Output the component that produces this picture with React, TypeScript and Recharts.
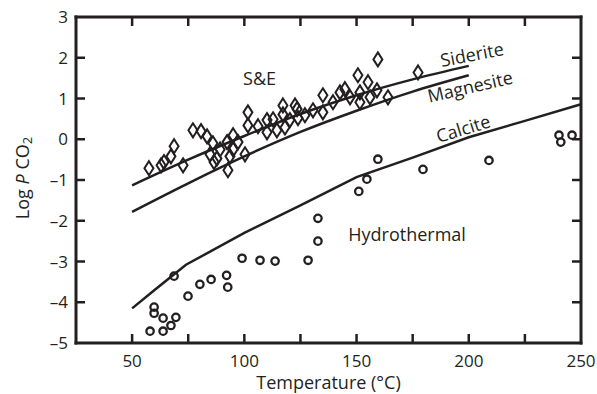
import React from 'react';
import { ComposedChart, XAxis, YAxis, Line, Scatter, ReferenceDot, ReferenceLine } from 'recharts';

const INK = '#231f20';
const FONT = '"Open Sans", "DejaVu Sans", sans-serif';
const W = 597;
const H = 394;
const MARGIN = { top: 17, right: 16, bottom: 51, left: 76 };

// Axis ranges and ticks
const xDomain = [25, 250];
const yDomain = [-5, 3];
const xTicks = [50, 75, 100, 125, 150, 175, 200, 225];
const xLabeled = [50, 100, 150, 200, 250];
const yTicks = [-4, -3, -2, -1, 0, 1, 2];
const yLabeled = [-5, -4, -3, -2, -1, 0, 1, 2, 3];

// Equilibrium curves (Temperature °C, log PCO2)
const sideriteT = [50, 75, 100, 125, 150, 175, 200];
const sideriteLogP = [-1.13, -0.5, 0.08, 0.62, 1.08, 1.47, 1.8];
const magnesiteT = [50, 75, 100, 125, 150, 175, 200];
const magnesiteLogP = [-1.78, -1.08, -0.42, 0.18, 0.7, 1.17, 1.57];
const calciteT = [50, 60, 74, 100, 125, 150, 175, 200, 225, 250];
const calciteLogP = [-4.15, -3.7, -3.08, -2.3, -1.62, -0.93, -0.45, 0.05, 0.45, 0.86];

// S&E samples (diamonds)
const seT = [57.5, 62.9, 64.2, 67.3, 68.7, 72.7, 77.1, 80.7, 83.4, 86.0, 84.7, 87.8, 89.2, 86.5, 92.7, 92.3, 95.0, 95.0, 93.6, 100.3,
  97.2, 101.6, 101.6, 106.1, 110.1, 110.1, 114.5, 112.8, 117.2, 118.1, 120.3, 123.5, 123.9, 127.0, 130.6, 135.0, 135.0, 139.5, 142.6, 144.8,
  147.1, 150.6, 151.5, 151.5, 155.1, 156.0, 159.5, 159.1, 164.0, 177.4, 122.6, 117.2];
const seLogP = [-0.71, -0.64, -0.56, -0.42, -0.17, -0.64, 0.22, 0.2, 0.07, -0.1, -0.37, -0.47, -0.25, -0.56, -0.76, -0.07, 0.1, -0.25, -0.42, -0.37,
  -0.07, 0.66, 0.34, 0.32, 0.17, 0.47, 0.22, 0.49, 0.83, 0.29, 0.47, 0.74, 0.52, 0.59, 0.71, 1.08, 0.66, 0.91, 1.15, 1.23,
  1.03, 1.57, 1.15, 0.91, 1.4, 1.03, 1.96, 1.2, 1.03, 1.64, 0.83, 0.61];

// Hydrothermal samples (circles)
const hydroT = [58, 63.8, 59.8, 59.8, 63.8, 67.3, 69.5, 68.7, 74.9, 80.2, 85.2, 92.1, 92.6, 99.0, 107, 113.7, 128.4, 132.8, 132.8,
  151, 154.6, 159.5, 179.6, 209, 240.2, 241, 246];
const hydroLogP = [-4.71, -4.71, -4.12, -4.27, -4.39, -4.57, -4.37, -3.36, -3.85, -3.56, -3.44, -3.34, -3.63, -2.92, -2.97, -2.99, -2.97, -2.5, -1.94,
  -1.28, -0.98, -0.49, -0.74, -0.52, 0.1, -0.07, 0.1];

// Annotations
const annText = ['S&E', 'Siderite', 'Magnesite', 'Calcite', 'Hydrothermal'];
const annT = [106.8, 201.4, 200.5, 197.4, 172.5];
const annLogP = [1.5, 2.09, 1.3, 0.27, -2.33];
const annAngle = [0, -11, -13, -17, 0];

const zip = (xs: number[], ys: number[]) => xs.map((x, i) => ({ x, y: ys[i] }));
const sideriteData = zip(sideriteT, sideriteLogP);
const magnesiteData = zip(magnesiteT, magnesiteLogP);
const calciteData = zip(calciteT, calciteLogP);
const seData = zip(seT, seLogP);
const hydroData = zip(hydroT, hydroLogP);
const annData = annText.map((t, i) => ({ t, x: annT[i], y: annLogP[i], a: annAngle[i] }));

const bottomTickData = xTicks.map((x) => ({ x, y: yDomain[0] }));
const topTickData = xTicks.map((x) => ({ x, y: yDomain[1] }));
const leftTickData = yTicks.map((y) => ({ x: xDomain[0], y }));
const rightTickData = yTicks.map((y) => ({ x: xDomain[1], y }));
const xLabelData = xLabeled.map((x) => ({ x, y: yDomain[0] }));
const yLabelData = yLabeled.map((y) => ({ x: xDomain[0], y }));

const fmt = (v: number) => (v < 0 ? '\u2013' + Math.abs(v) : String(v));
const TICK_LEN = 9;
const TICK_W = 2.5;

const BottomTick = (p: any) => (
  <line x1={p.cx} x2={p.cx} y1={p.cy} y2={p.cy - TICK_LEN} stroke={INK} strokeWidth={TICK_W} />
);
const TopTick = (p: any) => (
  <line x1={p.cx} x2={p.cx} y1={p.cy} y2={p.cy + TICK_LEN} stroke={INK} strokeWidth={TICK_W} />
);
const LeftTick = (p: any) => (
  <line x1={p.cx} x2={p.cx + TICK_LEN} y1={p.cy} y2={p.cy} stroke={INK} strokeWidth={TICK_W} />
);
const RightTick = (p: any) => (
  <line x1={p.cx} x2={p.cx - TICK_LEN} y1={p.cy} y2={p.cy} stroke={INK} strokeWidth={TICK_W} />
);
const XTickLabel = (p: any) => (
  <text x={p.cx} y={p.cy + 24} textAnchor="middle" fontFamily={FONT} fontSize={17} fill={INK}>
    {fmt(p.payload ? p.payload.x : p.x)}
  </text>
);
const YTickLabel = (p: any) => (
  <text x={p.cx - 8} y={p.cy + 6} textAnchor="end" fontFamily={FONT} fontSize={17} fill={INK}>
    {fmt(p.payload ? p.payload.y : p.y)}
  </text>
);

const Diamond = (p: any) => {
  const { cx, cy } = p;
  if (cx == null || cy == null) return <g />;
  return (
    <path
      d={`M${cx},${cy - 7} L${cx + 4.5},${cy} L${cx},${cy + 7} L${cx - 4.5},${cy} Z`}
      fill="none"
      stroke={INK}
      strokeWidth={2}
    />
  );
};

const Ring = (p: any) => {
  const { cx, cy } = p;
  if (cx == null || cy == null) return <g />;
  return <circle cx={cx} cy={cy} r={3.7} fill="none" stroke={INK} strokeWidth={2.3} />;
};

const YTitle = (p: any) => {
  const cx = p.cx - 54;
  const cy = p.cy - 2;
  return (
    <text
      x={cx}
      y={cy}
      transform={`rotate(-90, ${cx}, ${cy})`}
      textAnchor="middle"
      dominantBaseline="central"
      fontFamily={FONT}
      fontSize={18}
      fill={INK}
    >
      Log <tspan fontStyle="italic">P</tspan> CO<tspan fontSize={13} dy={5}>2</tspan>
    </text>
  );
};

const XTitle = (p: any) => (
  <text x={p.cx} y={p.cy + 46} textAnchor="middle" fontFamily={FONT} fontSize={18} fill={INK}>
    Temperature (°C)
  </text>
);

const sc = { isAnimationActive: false, dataKey: 'y' } as const;
const edge = { stroke: INK, strokeWidth: 3, strokeLinecap: 'square' } as const;

// Frame + inward ticks, drawn in an overlay chart with identical scales
function FrameChart() {
  return (
    <ComposedChart width={W} height={H} margin={MARGIN}>
      <XAxis type="number" dataKey="x" domain={xDomain} hide />
      <YAxis type="number" dataKey="y" domain={yDomain} hide />
      <ReferenceLine y={yDomain[0]} {...edge} />
      <ReferenceLine y={yDomain[1]} {...edge} />
      <ReferenceLine x={xDomain[0]} {...edge} />
      <ReferenceLine x={xDomain[1]} {...edge} />
      <Scatter data={bottomTickData} {...sc} shape={BottomTick} />
      <Scatter data={topTickData} {...sc} shape={TopTick} />
      <Scatter data={leftTickData} {...sc} shape={LeftTick} />
      <Scatter data={rightTickData} {...sc} shape={RightTick} />
    </ComposedChart>
  );
}

function DataChart() {
  return (
    <ComposedChart width={W} height={H} margin={MARGIN}>
      <XAxis type="number" dataKey="x" domain={xDomain} hide />
      <YAxis type="number" dataKey="y" domain={yDomain} hide />

      <Line data={sideriteData} dataKey="y" type="monotone" stroke={INK} strokeWidth={2.5} dot={false} isAnimationActive={false} />
      <Line data={magnesiteData} dataKey="y" type="monotone" stroke={INK} strokeWidth={2.5} dot={false} isAnimationActive={false} />
      <Line data={calciteData} dataKey="y" type="linear" stroke={INK} strokeWidth={2.5} dot={false} isAnimationActive={false} />
      <Scatter data={seData} {...sc} shape={Diamond} />
      <Scatter data={hydroData} {...sc} shape={Ring} />

      <Scatter data={xLabelData} {...sc} shape={XTickLabel} />
      <Scatter data={yLabelData} {...sc} shape={YTickLabel} />

      <ReferenceDot x={(xDomain[0] + xDomain[1]) / 2} y={yDomain[0]} r={0} ifOverflow="visible" shape={XTitle} />
      <ReferenceDot x={xDomain[0]} y={(yDomain[0] + yDomain[1]) / 2} r={0} ifOverflow="visible" shape={YTitle} />

      {annData.map((a) => (
        <ReferenceDot
          key={a.t}
          x={a.x}
          y={a.y}
          r={0}
          shape={(p: any) => (
            <text
              x={p.cx}
              y={p.cy}
              transform={`rotate(${a.a}, ${p.cx}, ${p.cy})`}
              textAnchor="middle"
              dominantBaseline="central"
              fontFamily={FONT}
              fontSize={18}
              fill={INK}
            >
              {a.t}
            </text>
          )}
        />
      ))}
    </ComposedChart>
  );
}

export default function App() {
  return (
    <div style={{ position: 'absolute', left: 0, top: 0, width: W, height: H, background: '#fff' }}>
      <div style={{ position: 'absolute', left: 0, top: 0 }}>
        <DataChart />
      </div>
      <div style={{ position: 'absolute', left: 0, top: 0 }}>
        <FrameChart />
      </div>
    </div>
  );
}
